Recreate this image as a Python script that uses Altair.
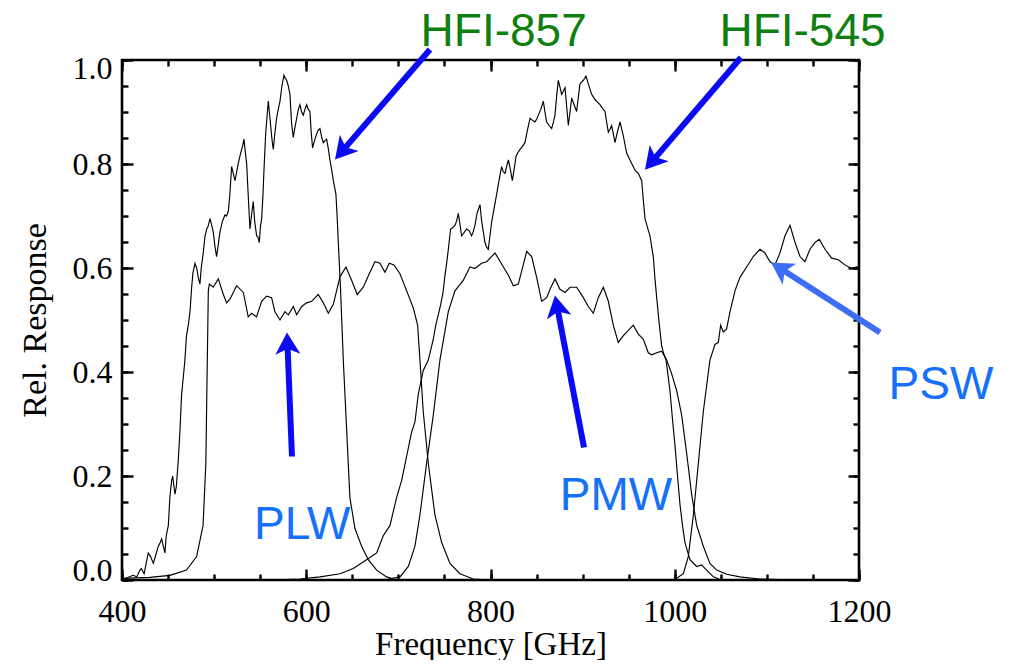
import math
import altair as alt
import pandas as pd

# ---------------- data (frequency GHz, relative response) ----------------
HFI857 = [(400,0.0),(405,0.004),(412,0.009),(416,0.006),(419.5,0.019),(421,0.022),(424,0.012),
          (426,0.03),(428.5,0.052),(431,0.045),(434,0.032),(437,0.05),(439.4,0.065),(441,0.07),
          (443,0.079),(446.6,0.052),(448,0.085),(450.3,0.105),(452,0.16),(453.9,0.191),(455,0.2),
          (457.5,0.165),(459,0.18),(461.1,0.231),(463,0.29),(464.7,0.357),(466,0.38),(468.3,0.423),
          (470,0.47),(472,0.49),(474,0.52),(475.6,0.563),(477,0.59),(479.2,0.609),(481,0.6),
          (483,0.58),(484.6,0.569),(486,0.6),(488.2,0.629),(490,0.66),(491.9,0.675),(493.5,0.68),
          (495.5,0.695),(497,0.685),(499.1,0.669),(501,0.64),(502.7,0.622),(504.5,0.645),
          (506.3,0.669),(509,0.69),(511.8,0.702),(513.5,0.7),(515.4,0.709),(517,0.74),(519,0.795),
          (521,0.78),(522.6,0.768),(524,0.78),(526.2,0.801),(528,0.815),(529.9,0.828),(531,0.835),
          (532.4,0.848),(534,0.82),(535.3,0.801),(537,0.74),(538.9,0.675),(540.5,0.70),
          (542.5,0.728),(544,0.69),(546.1,0.662),(547.5,0.66),(549,0.649),(550.3,0.68),
          (551.6,0.695),(553,0.74),(554.1,0.788),(556,0.86),(558.8,0.921),(560.5,0.89),
          (562.4,0.854),(563.3,0.84),(564.2,0.828),(566,0.86),(567.8,0.888),(569.6,0.905),
          (571.5,0.921),(573.6,0.95),(575.8,0.971),(577.3,0.965),(578.7,0.961),(580.5,0.95),
          (582.3,0.934),(584,0.88),(585.9,0.851),(587.7,0.87),(589.6,0.888),(591.4,0.905),
          (593.2,0.914),(595,0.9),(596.8,0.894),(598.6,0.905),(600.4,0.914),(602.2,0.905),
          (604,0.901),(605.4,0.86),(606.9,0.831),(609,0.845),(611.3,0.858),(613,0.865),
          (614.9,0.868),(616.7,0.852),(618.5,0.841),(620.3,0.845),(622.1,0.848),(623.9,0.83),
          (625.7,0.808),(627.5,0.79),(629.4,0.768),(630.8,0.755),(632.2,0.742),(633.5,0.7),
          (634.8,0.649),(637.3,0.556),(640.2,0.423),(643.8,0.291),(647.4,0.158),(652.9,0.099),
          (660.1,0.065),(667.3,0.039),(676.4,0.019),(687.2,0.006),(698,0.0),(760,0.0)]

HFI545 = [(560,0.0),(593,0.002),(615,0.006),(636.6,0.012),(651,0.022),(665.5,0.039),(676.4,0.052),
          (683.6,0.085),(690.9,0.105),(698,0.158),(703.5,0.191),(709,0.238),(714.3,0.284),(718,0.304),
          (721.6,0.357),(727,0.403),(732.5,0.423),(737.9,0.463),(740.6,0.49),(743.3,0.51),(746,0.53),
          (748.7,0.556),(750.5,0.585),(752.4,0.609),(754.5,0.64),(756.7,0.675),(759,0.678),
          (761.4,0.682),(763.2,0.69),(765,0.705),(766.8,0.685),(768.6,0.662),(771.3,0.668),
          (774.1,0.675),(776.8,0.672),(779.5,0.662),(781.3,0.67),(783.1,0.682),(785.4,0.705),
          (788.6,0.722),(790.4,0.69),(794,0.649),(795.8,0.64),(797.6,0.636),(799.4,0.662),
          (801.3,0.689),(804,0.715),(806.7,0.742),(809.4,0.77),(812.1,0.795),(813.9,0.785),
          (815.7,0.782),(817.5,0.795),(819.4,0.808),(821.5,0.79),(823.7,0.768),(825.7,0.79),
          (827.7,0.815),(829.8,0.822),(832,0.828),(834.7,0.834),(837.4,0.841),(840.1,0.865),
          (842.9,0.888),(845.6,0.884),(848.3,0.881),(850.1,0.886),(851.9,0.894),(854.6,0.905),
          (857.3,0.921),(859.1,0.9),(860.9,0.881),(863.6,0.874),(866.4,0.868),(868.2,0.88),
          (870,0.894),(871.8,0.93),(873.6,0.961),(875.4,0.948),(877.2,0.934),(879,0.94),
          (880.9,0.947),(882.7,0.91),(884.5,0.874),(886.3,0.9),(888.1,0.927),(890.8,0.914),
          (893.5,0.901),(895.3,0.928),(897.1,0.954),(899,0.958),(900.8,0.961),(902.2,0.965),
          (903.6,0.969),(904.9,0.962),(906.2,0.954),(908,0.944),(909.8,0.934),(911.6,0.929),
          (913.4,0.924),(916.1,0.919),(918.8,0.914),(921.5,0.907),(924.3,0.901),(926.1,0.88),
          (927.9,0.861),(929.7,0.867),(931.5,0.874),(933.3,0.858),(935.1,0.841),(937.8,0.862),
          (940.6,0.881),(942.4,0.867),(944.2,0.854),(946,0.837),(947.8,0.821),(950.5,0.811),
          (953.2,0.801),(955,0.795),(956.8,0.788),(958.6,0.785),(960.5,0.782),(962.3,0.775),
          (964.1,0.768),(965.9,0.73),(967.7,0.695),(970.4,0.678),(973.1,0.662),(975,0.64),
          (976.7,0.622),(978.5,0.58),(980.4,0.543),(983,0.495),(985.8,0.45),(988,0.435),
          (990.5,0.423),(992.6,0.395),(994.8,0.364),(997.5,0.31),(1000.3,0.258),(1003,0.2),
          (1005.7,0.145),(1008.4,0.105),(1011.1,0.072),(1016.5,0.039),(1023.8,0.026),
          (1029.2,0.029),(1034.6,0.019),(1041.9,0.006),(1049.1,0.001),(1080,0.0)]

PLW = [(400,0.003),(430,0.005),(452,0.009),(470,0.019),(481,0.045),(488,0.105),(491,0.224),
       (492.6,0.423),(493.7,0.556),(494.8,0.569),(499,0.563),(504.5,0.579),(510,0.549),
       (513.6,0.533),(517.2,0.54),(524.4,0.566),(531.7,0.553),(537,0.506),(540.7,0.513),
       (546,0.506),(551.6,0.536),(557,0.546),(562.4,0.543),(566,0.516),(571.5,0.5),(576.9,0.516),
       (580.5,0.51),(586,0.526),(589.6,0.51),(595,0.526),(600.4,0.533),(605.8,0.536),(613,0.549),
       (618.5,0.533),(624,0.513),(629.4,0.53),(636.6,0.583),(643.1,0.602),(649.3,0.576),
       (655.4,0.549),(661.9,0.563),(668.4,0.589),(674.6,0.612),(680,0.609),(685.4,0.592),
       (690.1,0.609),(695.2,0.606),(701.7,0.589),(709,0.556),(716.2,0.523),(720.9,0.49),
       (723.4,0.423),(727,0.324),(732.5,0.224),(739.7,0.125),(747,0.072),(756,0.032),
       (766.8,0.012),(781.3,0.002),(800,0.0)]

PMW = [(660,0.0),(687.2,0.001),(701.7,0.006),(710.8,0.026),(718,0.065),(723.4,0.125),(730.6,0.224),
       (737.9,0.317),(745.1,0.423),(754.2,0.516),(761.4,0.556),(770.4,0.576),(777.7,0.602),
       (783.1,0.599),(790.3,0.609),(795.8,0.612),(804.9,0.629),(814,0.602),(819.4,0.586),
       (824.8,0.566),(830.2,0.569),(839.3,0.632),(844.7,0.622),(850.1,0.582),(855.5,0.536),
       (861,0.543),(864.6,0.559),(870,0.579),(875.4,0.559),(880.9,0.553),(886.3,0.563),
       (893.5,0.563),(900.8,0.543),(906.2,0.526),(911.6,0.513),(917,0.543),(922.5,0.563),
       (927.9,0.536),(933.3,0.49),(938.7,0.457),(944.2,0.47),(949.6,0.48),(955,0.49),
       (960.5,0.473),(965.9,0.463),(971.3,0.437),(974.9,0.433),(980.4,0.437),(985.8,0.44),
       (991.2,0.423),(996.6,0.397),(1002.1,0.364),(1007.5,0.317),(1012.9,0.244),(1018.3,0.165),
       (1023.8,0.105),(1031,0.065),(1038.2,0.032),(1045.5,0.019),(1056.3,0.011),(1070.8,0.006),
       (1092.5,0.002),(1114.2,0.001),(1140,0.0)]

PSW = [(960,0.0),(1000.3,0.001),(1009.3,0.012),(1014.7,0.045),(1020.2,0.125),(1025.6,0.224),
       (1031,0.324),(1038.2,0.423),(1043.7,0.453),(1047.3,0.457),(1049.8,0.49),(1052.7,0.477),
       (1056.3,0.483),(1060,0.516),(1065.4,0.556),(1070.8,0.582),(1078,0.602),(1085.3,0.622),
       (1092.5,0.636),(1097.9,0.629),(1103.4,0.612),(1108.8,0.606),(1114.2,0.629),(1119.7,0.662),
       (1125.1,0.682),(1130.6,0.649),(1136,0.622),(1141.3,0.612),(1146.8,0.636),(1152.2,0.649),
       (1156.9,0.655),(1163.1,0.636),(1170.3,0.619),(1177.5,0.616),(1184.8,0.606),(1192,0.599),
       (1197.5,0.602),(1200,0.6)]

CURVES = {"HFI-857": HFI857, "HFI-545": HFI545, "PLW": PLW, "PMW": PMW, "PSW": PSW}

# annotation labels
LABELS = ["HFI-857", "HFI-545", "PLW", "PMW", "PSW"]
LABEL_F = [814.3, 1138.7, 595.6, 936.2, 1289.0]
LABEL_R = [1.0265, 1.0265, 0.0792, 0.1337, 0.349]
LABEL_COLOR = ["#0f800f", "#0f800f", "#1570fb", "#1570fb", "#1570fb"]

# annotation arrows (tail -> tip)
ARROW_F0 = [734.3, 1071.9, 584.5, 901.5, 1222.8]
ARROW_R0 = [1.0202, 1.0048, 0.2375, 0.2548, 0.476]
ARROW_F1 = [631.2, 967.7, 579.1, 870.0, 1104.5]
ARROW_R1 = [0.8087, 0.789, 0.476, 0.547, 0.6106]
ARROW_COLOR = ["#0a0af5", "#0a0af5", "#0a0af5", "#0a0af5", "#3d6df5"]

X_TICKS = [400, 600, 800, 1000, 1200]
X_MINOR = [400, 450, 500, 550, 600, 650, 700, 750, 800, 850, 900, 950, 1000, 1050, 1100, 1150, 1200]
Y_TICKS = [0.0, 0.2, 0.4, 0.6, 0.8, 1.0]
Y_MINOR = [0.0, 0.05, 0.1, 0.15, 0.2, 0.25, 0.3, 0.35, 0.4, 0.45, 0.5, 0.55, 0.6, 0.65,
           0.7, 0.75, 0.8, 0.85, 0.9, 0.95, 1.0]

# ---------------- layout ----------------
W, H = 737, 520
XDOM, YDOM = [400, 1200], [0, 1]
SERIF = "Liberation Serif"
SANS = "Liberation Sans"

curve_rows = []
for name, pts in CURVES.items():
    for f, r in sorted(pts):
        curve_rows.append({"series": name, "f": f, "r": r})
curves_df = pd.DataFrame(curve_rows)

label_df = pd.DataFrame({"txt": LABELS, "f": LABEL_F, "r": LABEL_R, "c": LABEL_COLOR})

PXF = W / (XDOM[1] - XDOM[0])
PXR = H / (YDOM[1] - YDOM[0])
PULL = 14
arrow_rows = []
for f0, r0, f1, r1, c in zip(ARROW_F0, ARROW_R0, ARROW_F1, ARROW_R1, ARROW_COLOR):
    dx = (f1 - f0) * PXF
    dy = -(r1 - r0) * PXR
    L = math.hypot(dx, dy)
    ux, uy = dx / L, dy / L
    ang = math.degrees(math.atan2(dx, -dy)) % 360
    arrow_rows.append({"f0": f0, "r0": r0, "f1": f1, "r1": r1,
                       "fe": f1 - PULL * ux / PXF, "re": r1 + PULL * uy / PXR,
                       "ang": ang, "c": c})
arrow_df = pd.DataFrame(arrow_rows)

xs = alt.Scale(domain=XDOM, nice=False, zero=False)
ys = alt.Scale(domain=YDOM, nice=False, zero=False)

ax_x = alt.Axis(values=X_TICKS, format="d", labelFont=SERIF, labelFontSize=32, labelColor="black",
                labelPadding=16, ticks=False, domain=False, grid=False, labelFlush=False,
                labelOverlap=False, title="Frequency [GHz]", titleFont=SERIF, titleFontSize=33,
                titleFontWeight="normal", titleColor="black", titleY=74, titleBaseline="alphabetic")
ax_y = alt.Axis(values=Y_TICKS, format=".1f", labelFont=SERIF, labelFontSize=32, labelColor="black",
                labelPadding=10, ticks=False, domain=False, grid=False, labelFlush=True,
                labelFlushOffset=7, labelOverlap=False, title="Rel. Response", titleFont=SERIF,
                titleFontSize=34, titleFontWeight="normal", titleColor="black", titleAngle=270,
                titleX=-87, titleY=260, titleBaseline="middle", titleAlign="center")

X = alt.X("f:Q", scale=xs, axis=ax_x)
Y = alt.Y("r:Q", scale=ys, axis=ax_y)

curves = alt.Chart(curves_df).mark_line(color="black", strokeWidth=1.15).encode(
    x=X, y=Y, detail="series:N", order="f:Q")

shafts = alt.Chart(arrow_df).mark_rule(strokeWidth=6, strokeCap="butt").encode(
    x=alt.X("f0:Q", scale=xs, axis=ax_x), y=alt.Y("r0:Q", scale=ys, axis=ax_y),
    x2="fe:Q", y2="re:Q", color=alt.Color("c:N", scale=None))

HEAD = "M0,0L-1,1.75L0,1.3L1,1.75Z"
heads = alt.Chart(arrow_df).mark_point(shape=HEAD, filled=True, size=625, opacity=1,
                                       strokeWidth=0).encode(
    x=alt.X("f1:Q", scale=xs, axis=ax_x), y=alt.Y("r1:Q", scale=ys, axis=ax_y),
    angle=alt.Angle("ang:Q", scale=None), color=alt.Color("c:N", scale=None))

texts = alt.Chart(label_df).mark_text(font=SANS, fontSize=46, align="center",
                                      baseline="alphabetic").encode(
    x=alt.X("f:Q", scale=xs, axis=ax_x), y=alt.Y("r:Q", scale=ys, axis=ax_y),
    text="txt:N", color=alt.Color("c:N", scale=None))

main = alt.layer(curves, shafts, heads, texts)

ref_df = pd.DataFrame({"f": XDOM, "r": YDOM})


def tick_layer(x_orient, y_orient, xvals, yvals, size):
    axx = alt.Axis(orient=x_orient, offset=-H, values=xvals, tickSize=size, tickWidth=2.4,
                   tickColor="black", labels=False, domain=False, grid=False, title=None)
    axy = alt.Axis(orient=y_orient, offset=-W, values=yvals, tickSize=size, tickWidth=2.4,
                   tickColor="black", labels=False, domain=False, grid=False, title=None)
    return alt.Chart(ref_df).mark_point(opacity=0).encode(
        x=alt.X("f:Q", scale=xs, axis=axx), y=alt.Y("r:Q", scale=ys, axis=axy))


t_major_in = tick_layer("top", "right", X_TICKS, Y_TICKS, 11)      # bottom & left edges
t_minor_in = tick_layer("top", "right", X_MINOR, Y_MINOR, 6)
t_major_out = tick_layer("bottom", "left", X_TICKS, Y_TICKS, 11)   # top & right edges
t_minor_out = tick_layer("bottom", "left", X_MINOR, Y_MINOR, 6)

chart = alt.layer(main, t_major_in, t_minor_in, t_major_out, t_minor_out).resolve_scale(
    x="independent", y="independent").resolve_axis(x="independent", y="independent").properties(
    width=W, height=H,
    autosize=alt.AutoSizeParams(type="none"),
    padding={"left": 114, "top": 52, "right": 144, "bottom": 80},
    background="white",
).configure_view(stroke="black", strokeWidth=2.6)

chart.save("out.html", embed_options={"renderer": "svg", "actions": False})
